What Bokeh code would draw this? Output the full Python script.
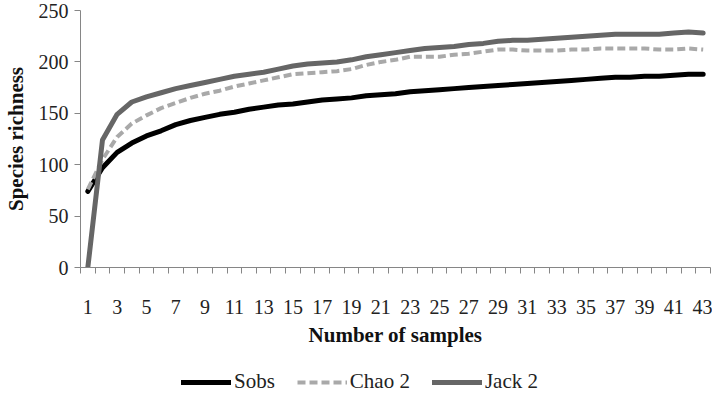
from bokeh.plotting import figure
from bokeh.layouts import column
from bokeh.models import Range1d, FixedTicker, Legend, LegendItem
from bokeh.embed import file_html
from bokeh.resources import INLINE

samples = list(range(1, 44))
sobs = [74, 97, 112, 121, 128, 133, 139, 143, 146, 149, 151, 154, 156, 158, 159, 161, 163, 164,
        165, 167, 168, 169, 171, 172, 173, 174, 175, 176, 177, 178, 179, 180, 181, 182, 183, 184,
        185, 185, 186, 186, 187, 188, 188]
chao2 = [76, 105, 127, 140, 148, 155, 160, 165, 169, 172, 176, 179, 182, 185, 188, 189, 190, 191,
         193, 197, 200, 202, 205, 205, 205, 207, 208, 210, 212, 212, 211, 211, 211, 212, 212, 213,
         213, 213, 213, 212, 212, 213, 212]
jack2 = [0, 124, 149, 161, 166, 170, 174, 177, 180, 183, 186, 188, 190, 193, 196, 198, 199, 200,
         202, 205, 207, 209, 211, 213, 214, 215, 217, 218, 220, 221, 221, 222, 223, 224, 225, 226,
         227, 227, 227, 227, 228, 229, 228]
series_names = ["Sobs", "Chao 2", "Jack 2"]
x_tick_labels = [str(s) for s in samples if s % 2 == 1]
y_ticks = [0, 50, 100, 150, 200, 250]

FONT = "Liberation Serif"
styles = [dict(line_color="black", line_width=5, line_cap="round", line_join="round"),
          dict(line_color="#a9a9a9", line_width=4, line_dash="8 4", line_join="round"),
          dict(line_color="#666666", line_width=5, line_cap="round", line_join="round")]
series = [sobs, chao2, jack2]

p = figure(width=712, height=352, output_backend="svg", toolbar_location=None,
           x_range=Range1d(0.5, 43.5), y_range=Range1d(0, 250),
           min_border_left=75, min_border_right=2, min_border_top=10, min_border_bottom=85)
p.background_fill_color = "white"
p.border_fill_color = "white"
p.outline_line_color = None
p.xgrid.grid_line_color = None
p.ygrid.grid_line_color = None

for ys, st in zip(series, styles):
    p.line(samples, ys, **st)

odd = [s for s in samples if s % 2 == 1]
p.xaxis.ticker = FixedTicker(ticks=odd, minor_ticks=[s - 0.5 for s in samples] + [samples[-1] + 0.5])
p.xaxis.major_label_overrides = {t: lab for t, lab in zip(odd, x_tick_labels)}
p.xaxis.major_tick_line_color = None
p.xaxis.minor_tick_line_color = "#868686"
p.xaxis.minor_tick_out = 6
p.xaxis.minor_tick_in = 0
p.yaxis.ticker = FixedTicker(ticks=y_ticks, minor_ticks=[])
p.yaxis.major_tick_line_color = "#868686"
p.yaxis.major_tick_out = 6
p.yaxis.major_tick_in = 0
for ax in (p.xaxis[0], p.yaxis[0]):
    ax.axis_line_color = "#868686"
    ax.axis_line_width = 1
    ax.major_label_text_font = FONT
    ax.major_label_text_font_size = "20px"
    ax.major_label_text_color = "#222222"
    ax.axis_label_text_font = FONT
    ax.axis_label_text_font_size = "21px"
    ax.axis_label_text_font_style = "bold"
    ax.axis_label_text_color = "#111111"
p.xaxis.major_label_standoff = 26
p.xaxis.axis_label = "Number of samples"
p.xaxis.axis_label_standoff = 6
p.yaxis.axis_label = "Species richness"
p.yaxis.axis_label_standoff = 8
p.yaxis.major_label_standoff = 6

# legend strip below the chart (series drawn off-view, only their legend glyphs show)
lg = figure(width=712, height=44, output_backend="svg", toolbar_location=None,
            x_axis_location=None, y_axis_location=None,
            x_range=Range1d(-200, -100), y_range=Range1d(-200, -100),
            min_border_left=0, min_border_right=0, min_border_top=0, min_border_bottom=0)
lg.outline_line_color = None
lg.xgrid.grid_line_color = None
lg.ygrid.grid_line_color = None
items = []
for name, ys, st in zip(series_names, series, styles):
    r = lg.line(samples, ys, **st)
    items.append(LegendItem(label=name, renderers=[r]))
legend = Legend(items=items, orientation="horizontal", location=(101, 2))
legend.label_text_font = FONT
legend.label_text_font_size = "21px"
legend.label_text_color = "#222222"
legend.glyph_width = 50
legend.label_standoff = 3
legend.spacing = 22
legend.border_line_color = None
legend.background_fill_alpha = 0
legend.padding = 0
legend.margin = 0
lg.add_layout(legend, "center")

layout = column(p, lg, spacing=0)
open("out.html", "w").write(file_html(layout, INLINE))
